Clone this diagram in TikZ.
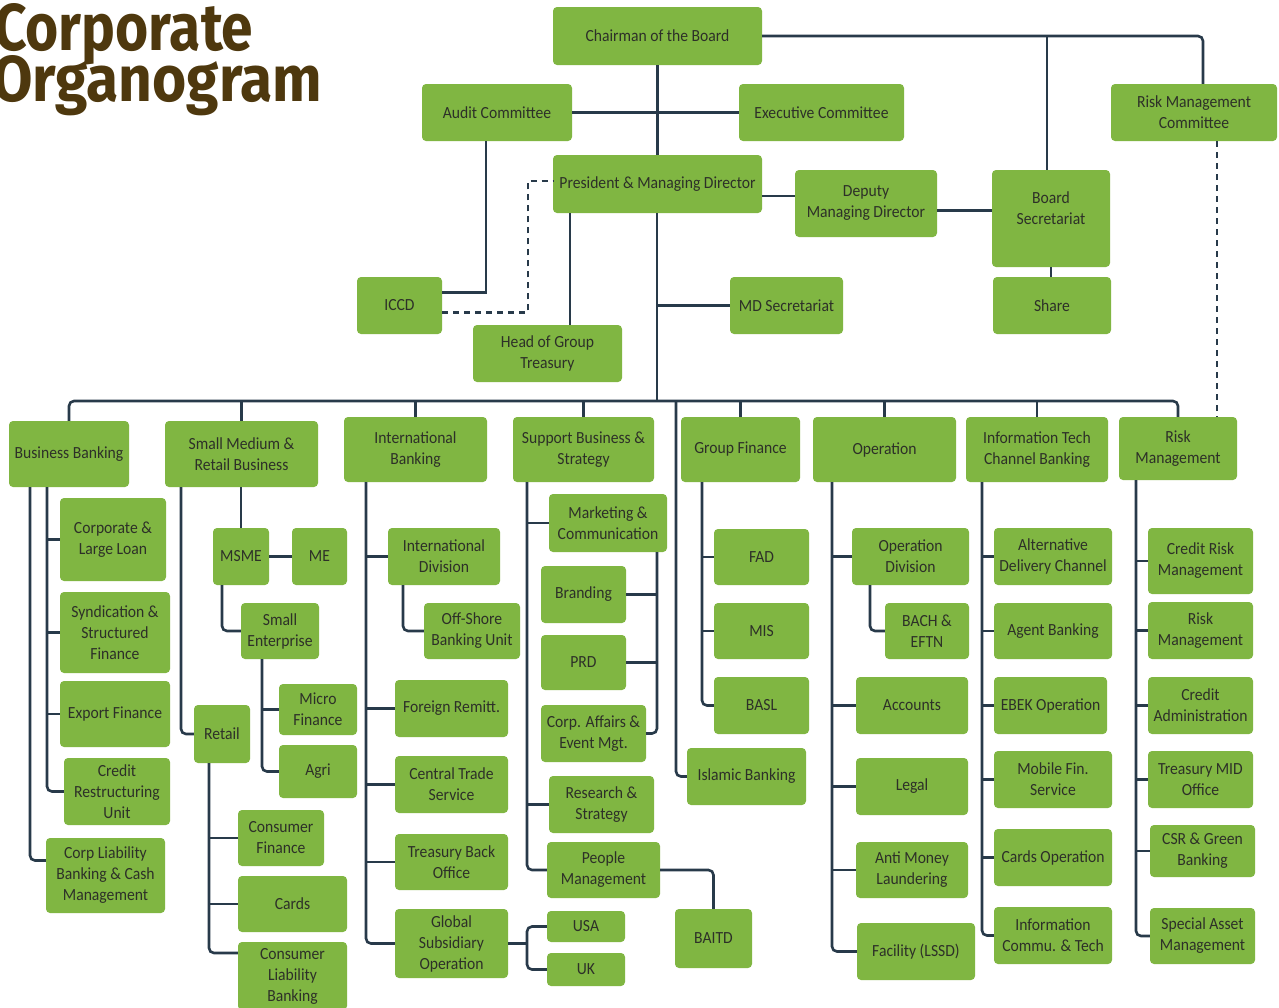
\documentclass[tikz,border=0pt]{standalone}
\usepackage{fontspec}
\setmainfont{Carlito}[FakeStretch=0.92]
\newfontfamily\titlefont{Fira Sans}
\usepackage{graphicx}
\usetikzlibrary{calc}
\definecolor{boxg}{RGB}{128,182,66}
\definecolor{lnc}{RGB}{40,58,74}
\definecolor{txc}{RGB}{45,48,40}
\definecolor{ttl}{RGB}{78,56,14}
\tikzset{
 orgbox/.style={fill=boxg, draw=none, rounded corners=4pt, inner sep=0pt, align=center, text=txc, font=\fontsize{17}{21}\selectfont},
 ln/.style={draw=lnc, line width=2.6pt},
 rc/.style={ln, rounded corners=5pt},
 dsh/.style={draw=lnc, line width=2.6pt, dash pattern=on 6pt off 5pt},
}
\newcommand\obox[6]{\node[orgbox,minimum width={#4-#2},minimum height={#5-#3}] (#1) at ({(#2+#4)/2},{(#3+#5)/2}) {#6};}
\newcommand\brw[2]{\draw[ln] (#1 |- #2.west) -- (#2.west);}
\newcommand\bre[2]{\draw[ln] (#1 |- #2.east) -- (#2.east);}
\begin{document}
\begin{tikzpicture}[x=1pt,y=-1pt]
\useasboundingbox (0,0) rectangle (1279,1007);
\fill[white] (0,0) rectangle (1279,1007);
\clip (0,0) rectangle (1279,1007);
% title
\node[anchor=base west, inner sep=0pt, text=ttl] (t1) at (-6,50) {\resizebox{259pt}{47pt}{\titlefont\bfseries Corporate}};
\node[anchor=base west, inner sep=0pt, text=ttl] (t2) at (-8,101) {\resizebox{330pt}{46pt}{\titlefont\bfseries Organogram}};
% top
\obox{chair}{553}{7}{762}{65}{Chairman of the Board}
\obox{audit}{422}{84}{572}{141}{Audit Committee}
\obox{exec}{739}{84}{904}{141}{Executive Committee}
\obox{rmc}{1111}{84}{1277}{141}{Risk Management\\Committee}
\obox{pres}{553}{155}{762}{213}{President \& Managing Director}
\obox{dmd}{795}{170}{937}{237}{Deputy\\Managing Director}
\obox{bsec}{992}{170}{1110}{267}{Board\\Secretariat\\[0pt]}
\obox{share}{993}{277}{1111}{334}{Share}
\obox{iccd}{357}{277}{442}{334}{ICCD}
\obox{hgt}{473}{325}{622}{382}{Head of Group\\Treasury}
\obox{mds}{730}{277}{843}{334}{MD Secretariat}
% departments
\obox{bb}{9}{421}{129}{487}{Business Banking}
\obox{smrb}{165}{421}{318}{487}{Small Medium \&\\Retail Business}
\obox{ib}{344}{417}{487}{482}{International\\Banking}
\obox{sbs}{513}{417}{654}{482}{Support Business \&\\Strategy}
\obox{gf}{681}{417}{800}{482}{Group Finance}
\obox{op}{813}{417}{956}{482}{Operation}
\obox{it}{966}{417}{1108}{482}{Information Tech\\Channel Banking}
\obox{rm}{1119}{417}{1237}{480}{Risk\\Management}
% business banking
\obox{cll}{60}{498}{166}{581}{Corporate \&\\Large Loan}
\obox{ssf}{60}{592}{170}{673}{Syndication \&\\Structured\\Finance}
\obox{ef}{60}{681}{170}{747}{Export Finance}
\obox{cru}{64}{758}{170}{825}{Credit\\Restructuring\\Unit}
\obox{clb}{46}{838}{165}{913}{Corp Liability\\Banking \& Cash\\Management}
% SMRB
\obox{msme}{213}{528}{269}{585}{MSME}
\obox{me}{292}{528}{347}{585}{ME}
\obox{se}{241}{603}{319}{659}{Small\\Enterprise}
\obox{mf}{279}{684}{357}{735}{Micro\\Finance}
\obox{agri}{279}{745}{357}{798}{Agri}
\obox{retail}{194}{705}{250}{763}{Retail}
\obox{cf}{238}{810}{324}{866}{Consumer\\Finance}
\obox{cards}{238}{876}{347}{932}{Cards}
\obox{clbk}{238}{942}{347}{1010}{Consumer\\Liability\\Banking}
% international banking
\obox{idiv}{388}{528}{500}{585}{International\\Division}
\obox{obu}{424}{603}{520}{659}{Off-Shore\\Banking Unit}
\obox{fr}{395}{680}{508}{737}{Foreign Remitt.}
\obox{cts}{395}{756}{508}{813}{Central Trade\\Service}
\obox{tbo}{395}{834}{508}{890}{Treasury Back\\Office}
\obox{gso}{395}{909}{508}{978}{Global\\Subsidiary\\Operation}
\obox{usa}{547}{911}{625}{942}{USA}
\obox{uk}{547}{953}{625}{986}{UK}
% support business
\obox{mc}{549}{494}{667}{552}{Marketing \&\\Communication}
\obox{brand}{541}{566}{626}{623}{Branding}
\obox{prd}{541}{635}{626}{690}{PRD}
\obox{ca}{541}{705}{646}{762}{Corp. Affairs \&\\Event Mgt.}
\obox{rs}{549}{776}{654}{833}{Research \&\\Strategy}
\obox{pm}{547}{842}{660}{898}{People\\Management}
\obox{baitd}{675}{909}{752}{968}{BAITD}
% group finance
\obox{fad}{714}{529}{809}{585}{FAD}
\obox{mis}{714}{603}{809}{659}{MIS}
\obox{basl}{714}{677}{809}{734}{BASL}
\obox{isl}{687}{748}{806}{805}{Islamic Banking}
% operation
\obox{opd}{852}{528}{969}{585}{Operation\\Division}
\obox{bach}{885}{603}{969}{659}{BACH \&\\EFTN}
\obox{acc}{856}{677}{968}{734}{Accounts}
\obox{legal}{856}{758}{968}{815}{Legal}
\obox{aml}{856}{842}{968}{898}{Anti Money\\Laundering}
\obox{fac}{857}{923}{975}{980}{Facility (LSSD)}
% IT
\obox{adc}{994}{528}{1112}{585}{Alternative\\Delivery Channel}
\obox{ab}{994}{603}{1112}{659}{Agent Banking}
\obox{ebek}{994}{677}{1107}{734}{EBEK Operation}
\obox{mfs}{994}{751}{1112}{808}{Mobile Fin.\\Service}
\obox{cop}{994}{829}{1112}{886}{Cards Operation}
\obox{ict}{994}{907}{1112}{964}{Information\\Commu. \& Tech}
% risk management
\obox{crm}{1148}{528}{1253}{594}{Credit Risk\\Management}
\obox{rm2}{1148}{602}{1253}{659}{Risk\\Management}
\obox{cad}{1148}{677}{1253}{734}{Credit\\Administration}
\obox{tmo}{1148}{751}{1253}{808}{Treasury MID\\Office}
\obox{csr}{1150}{825}{1255}{877}{CSR \& Green\\Banking}
\obox{sam}{1150}{908}{1255}{964}{Special Asset\\Management}
% ---- trunk coordinates
\coordinate (bus) at (657,401);
\coordinate (tR) at (1203,0);
\coordinate (tBS) at (1047,0);
\coordinate (tRD) at (1217,0);
\coordinate (tA) at (486,0);
\coordinate (tT) at (570,0);
\coordinate (dc) at (528,181);
\coordinate (tB1) at (30,0);
\coordinate (tB2) at (47,0);
\coordinate (tS1) at (181,0);
\coordinate (tS2) at (222,0);
\coordinate (tS3) at (262,0);
\coordinate (tS4) at (209,0);
\coordinate (tI1) at (366,0);
\coordinate (tI2) at (403,0);
\coordinate (tG) at (527,0);
\coordinate (tSB) at (527,0);
\coordinate (tMC) at (657,0);
\coordinate (tGF) at (702,0);
\coordinate (tIS) at (676,0);
\coordinate (tO1) at (832,0);
\coordinate (tO2) at (870,0);
\coordinate (tIT) at (982,0);
\coordinate (tRM) at (1136,0);
% ---- top connectors
\draw[ln] (chair.south) -- (pres.north);
\draw[ln] (audit.east) -- (exec.west);
\draw[rc] (chair.east) -| (rmc.north -| tR);
\draw[ln] (bsec.north -| tBS) -- (tBS |- chair.east);
\coordinate (p1) at ([yshift=-12pt]pres.east);
\draw[ln] (p1) -- (p1 -| dmd.west);
\coordinate (d1) at ([yshift=-7pt]dmd.east);
\draw[ln] (d1) -- (d1 -| bsec.west);
\draw[ln] (bsec.south) -- (bsec.south |- share.north);
\coordinate (i1) at ([yshift=13pt]iccd.east);
\draw[ln] (i1) -| (audit.south -| tA);
\coordinate (i2) at ([yshift=-7pt]iccd.east);
\draw[dsh] (i2) -| (dc) -- (dc -| pres.west);
\draw[ln] (pres.south -| tT) -- (hgt.north -| tT);
\draw[ln] (pres.south -| bus) -- (bus);
\draw[ln] (bus |- mds.west) -- (mds.west);
\draw[dsh] (rmc.south -| tRD) -- (rm.north -| tRD);
% bus
\draw[rc] (bb.north) |- (rm.north |- bus) -- (rm.north);
\foreach \n in {smrb,ib,sbs,gf,op,it}{\draw[ln] (\n.north) -- (\n.north |- bus);}
% business banking
\coordinate (cl1) at ([yshift=15pt]clb.west);
\draw[rc] (bb.south -| tB1) |- (cl1);
\draw[rc] (bb.south -| tB2) |- (cru.west);
\brw{tB2}{cll}\brw{tB2}{ssf}\brw{tB2}{ef}
% SMRB
\draw[rc] (smrb.south -| tS1) |- (retail.west);
\draw[ln] (smrb.south -| msme.north) -- (msme.north);
\draw[ln] (msme.east) -- (me.west);
\draw[rc] (msme.south -| tS2) |- (se.west);
\draw[rc] (se.south -| tS3) |- (agri.west);
\brw{tS3}{mf}
\coordinate (cl2) at ([yshift=23pt]clbk.west);
\draw[rc] (retail.south -| tS4) |- (cl2);
\brw{tS4}{cf}\brw{tS4}{cards}
% international banking
\draw[rc] (ib.south -| tI1) |- (gso.west);
\brw{tI1}{idiv}\brw{tI1}{fr}\brw{tI1}{cts}\brw{tI1}{tbo}
\draw[rc] (idiv.south -| tI2) |- (obu.west);
\draw[ln] (gso.east) -- (tG |- gso.east);
\draw[rc] (usa.west) -| (tG |- gso.east) |- (uk.west);
% support business
\draw[rc] (sbs.south -| tSB) |- (pm.west);
\brw{tSB}{mc}\brw{tSB}{rs}
\draw[rc] (mc.south -| tMC) |- (ca.east);
\bre{tMC}{brand}\bre{tMC}{prd}
\draw[rc] (pm.east) -| (baitd.north);
% group finance
\draw[rc] (gf.south -| tGF) |- (basl.west);
\brw{tGF}{fad}\brw{tGF}{mis}
\draw[rc] (tIS |- bus) |- (isl.west);
% operation
\draw[rc] (op.south -| tO1) |- (fac.west);
\brw{tO1}{opd}\brw{tO1}{acc}\brw{tO1}{legal}\brw{tO1}{aml}
\draw[rc] (opd.south -| tO2) |- (bach.west);
% IT
\draw[rc] (it.south -| tIT) |- (ict.west);
\brw{tIT}{adc}\brw{tIT}{ab}\brw{tIT}{ebek}\brw{tIT}{mfs}\brw{tIT}{cop}
% risk management
\draw[rc] (rm.south -| tRM) |- (sam.west);
\brw{tRM}{crm}\brw{tRM}{rm2}\brw{tRM}{cad}\brw{tRM}{tmo}\brw{tRM}{csr}
\end{tikzpicture}
\end{document}
